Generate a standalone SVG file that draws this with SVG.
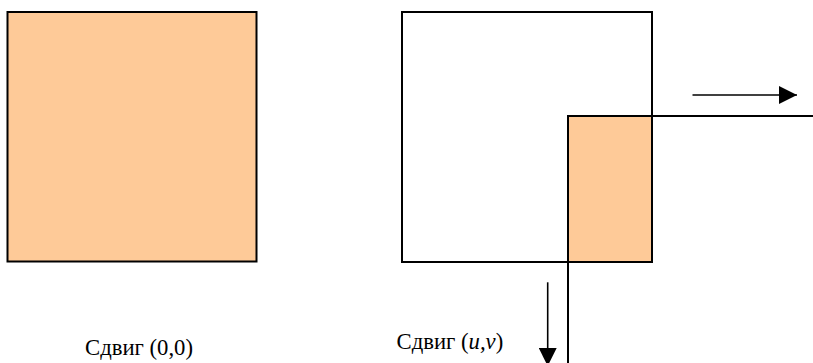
<svg xmlns="http://www.w3.org/2000/svg" width="813" height="363" viewBox="0 0 813 363">
<style>
.sq{stroke:#000;stroke-width:2;}
.fill{fill:#FECA98;}
.ln{stroke:#000;stroke-width:2;fill:none;}
.ar{stroke:#000;stroke-width:1.6;fill:none;}
.lbl{font-family:"Liberation Serif","Times New Roman",serif;font-size:22.7px;fill:#000;}
</style>
<defs>
<marker id="ah" viewBox="0 0 18 18" refX="18" refY="9" markerWidth="18" markerHeight="18" markerUnits="userSpaceOnUse" orient="auto">
<path d="M0,0 L18,9 L0,18 Z" fill="#000"/>
</marker>
</defs>
<rect width="813" height="363" fill="#fff"/>
<g id="square-original">
<rect class="sq fill" x="7.5" y="12" width="249" height="249.5"/>
</g>
<g id="square-reference">
<rect class="sq" x="402" y="12" width="250" height="250" fill="none"/>
</g>
<g id="square-shifted">
<rect class="fill" x="568" y="116" width="84" height="146"/>
<path class="ln" d="M568,363 V116 H813"/>
<path class="ln" d="M568,262 H652 V116"/>
</g>
<g id="connectors">
<line class="ar" x1="692.5" y1="95" x2="797" y2="95" marker-end="url(#ah)"/>
<line class="ar" x1="547.7" y1="282.3" x2="547.7" y2="366" marker-end="url(#ah)"/>
</g>
<g id="labels">
<text class="lbl" x="85" y="354.5">Сдвиг (0,0)</text>
<text class="lbl" x="396.5" y="348.5">Сдвиг (<tspan font-style="italic">u,v</tspan>)</text>
</g>
</svg>
